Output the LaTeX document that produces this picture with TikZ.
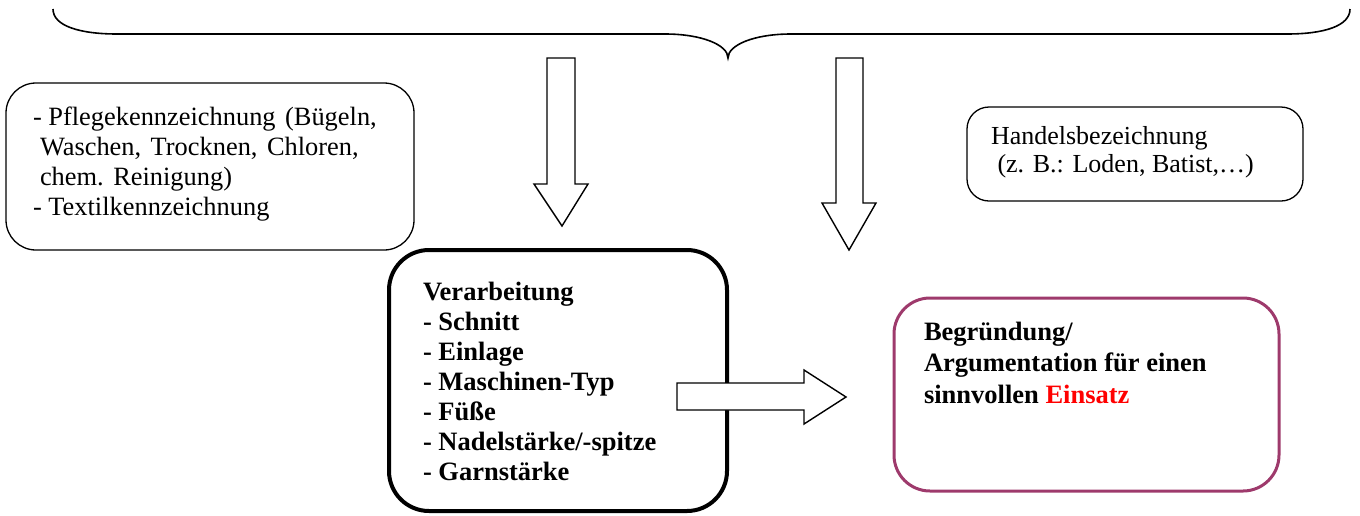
\documentclass[tikz,border=0pt]{standalone}
\usepackage{fontspec}
\setmainfont{Liberation Serif}
\definecolor{boxpurple}{RGB}{158,58,108}
\definecolor{einsatzred}{RGB}{255,0,0}
\newcommand{\widespaces}{\frenchspacing\spaceskip=9.5pt plus 2pt minus 1pt\relax}
\begin{document}
\begin{tikzpicture}[x=1pt,y=-1pt,
  thinbox/.style={draw=black,line width=1.3pt,rounded corners=#1},
  thinbox/.default=28pt,
  boxtext/.style={anchor=north west,inner sep=0pt,outer sep=0pt,align=left,font=\fontsize{26}{30}\selectfont},
  blockarrow/.style={draw=black,fill=white,line width=1.4pt,line join=miter},
  bracestyle/.style={draw=black,line width=1.6pt}
]
\useasboundingbox (0,0) rectangle (1360,515);

% brace
\path[bracestyle] (53,9) .. controls (53,26) and (80,34) .. (117,34) -- (665,34)
  .. controls (702,34) and (728,45) .. (728,58)
  .. controls (728,45) and (754,34) .. (791,34) -- (1287,34)
  .. controls (1324,34) and (1350,26) .. (1350,9);

% boxes
\draw[thinbox=30pt] (6,83) rectangle (414,250);
\node[boxtext,font=\fontsize{26.4}{30}\selectfont\widespaces] (pflege) at (33,105) {\rule{0pt}{20pt}-\hspace{6.6pt}Pflegekennzeichnung (Bügeln,\\
\hspace{7pt}Waschen, Trocknen, Chloren,\\
\hspace{7pt}chem. Reinigung)\\
-\hspace{6.6pt}Textilkennzeichnung};

\draw[thinbox=22pt] (967,107) rectangle (1303,201);
\node[boxtext,font=\fontsize{26}{28.5}\selectfont] (handel) at (991,124) {\rule{0pt}{20pt}Handelsbezeichnung\\
\ (z. B.: Loden, Batist,…)};

\draw[draw=black,line width=4pt,rounded corners=40pt] (389,250) rectangle (727,511);
\node[boxtext,font=\fontsize{26.5}{30}\selectfont\bfseries] (verarb) at (423,280) {\rule{0pt}{20pt}Verarbeitung\\
- Schnitt\\
- Einlage\\
- Maschinen-Typ\\
- Füße\\
- Nadelstärke/-spitze\\
- Garnstärke};

\draw[draw=boxpurple,line width=3pt,rounded corners=36pt] (894,298) rectangle (1279,491);
\node[boxtext,font=\fontsize{26.5}{31.5}\selectfont\bfseries] (begr) at (924,320) {\rule{0pt}{20pt}Begründung/\\
Argumentation für einen\\
sinnvollen \textcolor{einsatzred}{Einsatz}};

% block arrows
\path[blockarrow] (547,58) -- (575,58) -- (575,184) -- (588,184) -- (562,226) -- (534,184) -- (547,184) -- cycle;
\path[blockarrow] (836,58) -- (863,58) -- (863,203) -- (876,203) -- (849,250) -- (822,203) -- (836,203) -- cycle;
\path[blockarrow] (677,383) -- (804,383) -- (804,370) -- (846,397) -- (804,424) -- (804,410) -- (677,410) -- cycle;
\end{tikzpicture}
\end{document}
